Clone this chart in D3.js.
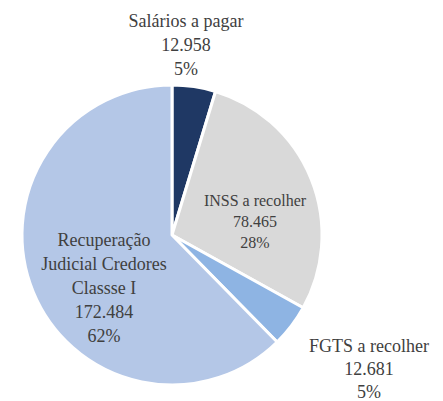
<!DOCTYPE html>
<html><head><meta charset="utf-8">
<script src="https://cdn.jsdelivr.net/npm/d3@7"></script>
</head><body>
<script>
const categories = ["Salários a pagar", "INSS a recolher", "FGTS a recolher", "Recuperação Judicial Credores Classse I"];
const labelLines = [["Salários a pagar"], ["INSS a recolher"], ["FGTS a recolher"], ["Recuperação", "Judicial Credores", "Classse I"]];
const values = [12958, 78465, 12681, 172484];
const valueLabels = ["12.958", "78.465", "12.681", "172.484"];
const colors = ["#1F3864", "#D9D9D9", "#8EB4E3", "#B4C7E7"];

d3.select("body").style("margin", "0px");
const W = 443, H = 401;
const cx = 172, cy = 235, R = 150;
const svg = d3.select("body").append("svg").attr("width", W).attr("height", H).style("display", "block");
const pie = d3.pie().sort(null).value(d => d)(values);
const arc = d3.arc().innerRadius(0).outerRadius(R);
const g = svg.append("g").attr("transform", `translate(${cx},${cy})`);
g.selectAll("path").data(pie).join("path")
  .attr("d", arc).attr("fill", (d, i) => colors[i])
  .attr("stroke", "#fff").attr("stroke-width", 3).attr("stroke-linejoin", "round");

const total = d3.sum(values);
const labelPos = [
  {x: 186, y: 27, fs: 18, lh: 24},
  {x: 255, y: 206, fs: 16, lh: 21},
  {x: 369, y: 352, fs: 18, lh: 23},
  {x: 104, y: 246, fs: 18, lh: 24}
];
categories.forEach((c, i) => {
  const p = labelPos[i];
  const lines = [...labelLines[i], valueLabels[i], Math.round(values[i] / total * 100) + "%"];
  lines.forEach((l, k) => {
    svg.append("text").attr("text-anchor", "middle")
      .attr("x", p.x).attr("y", p.y + k * p.lh)
      .attr("font-size", p.fs)
      .style("font-family", "Times New Roman")
      .attr("fill", "#404040")
      .text(l);
  });
});
</script>
</body></html>
